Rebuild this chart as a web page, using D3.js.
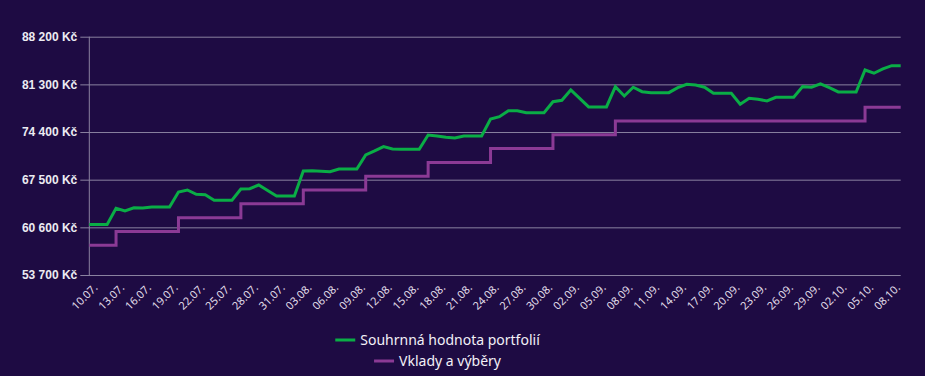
<!DOCTYPE html>
<html>
<head>
<meta charset="utf-8">
<script src="https://cdn.jsdelivr.net/npm/d3@7"></script>
<style>
  body { margin: 0; background: #1e0b43; }
  svg { display: block; }
</style>
</head>
<body>
<div id="chart"></div>
<script>
// Daily categories, 10.07. - 09.10.
var dates = [
  "10.07.","11.07.","12.07.","13.07.","14.07.","15.07.","16.07.","17.07.","18.07.","19.07.","20.07.",
  "21.07.","22.07.","23.07.","24.07.","25.07.","26.07.","27.07.","28.07.","29.07.","30.07.","31.07.",
  "01.08.","02.08.","03.08.","04.08.","05.08.","06.08.","07.08.","08.08.","09.08.","10.08.","11.08.",
  "12.08.","13.08.","14.08.","15.08.","16.08.","17.08.","18.08.","19.08.","20.08.","21.08.","22.08.",
  "23.08.","24.08.","25.08.","26.08.","27.08.","28.08.","29.08.","30.08.","31.08.",
  "01.09.","02.09.","03.09.","04.09.","05.09.","06.09.","07.09.","08.09.","09.09.","10.09.","11.09.",
  "12.09.","13.09.","14.09.","15.09.","16.09.","17.09.","18.09.","19.09.","20.09.","21.09.","22.09.",
  "23.09.","24.09.","25.09.","26.09.","27.09.","28.09.","29.09.","30.09.",
  "01.10.","02.10.","03.10.","04.10.","05.10.","06.10.","07.10.","08.10.","09.10."
];

// Souhrnná hodnota portfolií
var portfolio = [
  61000, 61000, 61000, 63360, 62970, 63440, 63400, 63550, 63550, 63550,
  65720, 66010, 65390, 65330, 64520, 64520, 64520, 66150, 66200, 66730,
  65940, 65140, 65140, 65140, 68760, 68800, 68720, 68660, 69050, 69050,
  69050, 71080, 71660, 72280, 71950, 71900, 71900, 71900, 73970, 73830,
  73640, 73540, 73830, 73830, 73830, 76290, 76620, 77490, 77490, 77200,
  77200, 77200, 78790, 79000, 80490, 79260, 78030, 78030, 78030, 80970,
  79620, 80880, 80240, 80100, 80100, 80100, 80820, 81310, 81210, 80880,
  80010, 80010, 80010, 78420, 79290, 79140, 78900, 79430, 79430, 79430,
  80970, 80880, 81360, 80820, 80200, 80200, 80200, 83380, 82910, 83530,
  84010, 84010
];

// Vklady a výběry
var deposits = [
  58000, 58000, 58000, 60000, 60000, 60000, 60000, 60000, 60000, 60000,
  62000, 62000, 62000, 62000, 62000, 62000, 62000, 64000, 64000, 64000,
  64000, 64000, 64000, 64000, 66000, 66000, 66000, 66000, 66000, 66000,
  66000, 68000, 68000, 68000, 68000, 68000, 68000, 68000, 70000, 70000,
  70000, 70000, 70000, 70000, 70000, 72000, 72000, 72000, 72000, 72000,
  72000, 72000, 74000, 74000, 74000, 74000, 74000, 74000, 74000, 76000,
  76000, 76000, 76000, 76000, 76000, 76000, 76000, 76000, 76000, 76000,
  76000, 76000, 76000, 76000, 76000, 76000, 76000, 76000, 76000, 76000,
  76000, 76000, 76000, 76000, 76000, 76000, 76000, 78000, 78000, 78000,
  78000, 78000
];

var yTicks = [53700, 60600, 67500, 74400, 81300, 88200];
var seriesNames = ["Souhrnná hodnota portfolií", "Vklady a výběry"];
var seriesColors = ["#0aad46", "#8b3a95"];

var width = 925, height = 376;
var margin = { top: 36.7, right: 24.3, bottom: 101, left: 89.3 };
var plotW = width - margin.left - margin.right;

var svg = d3.select("#chart").append("svg")
  .attr("width", width)
  .attr("height", height);

var x = d3.scalePoint().domain(dates).range([margin.left, width - margin.right]);
var y = d3.scaleLinear().domain([53700, 88200]).range([height - margin.bottom, margin.top]);

var kc = d3.formatLocale({ decimal: ",", thousands: " ", grouping: [3], currency: ["", " Kč"] })
  .format("$,.0f");

// y axis with gridlines (ticks stick out 9px left of the axis)
var yAxis = svg.append("g")
  .attr("transform", "translate(" + (margin.left - 9) + ",0)")
  .call(d3.axisLeft(y).tickValues(yTicks).tickSize(-(plotW + 9)).tickPadding(3).tickFormat(kc));
yAxis.select(".domain").remove();
yAxis.selectAll("line").attr("stroke", "#8a82a0").attr("stroke-width", 1);
yAxis.selectAll("text")
  .attr("fill", "#ecebf2")
  .style("font-family", "'Liberation Sans', Arial, sans-serif")
  .style("font-size", "12px")
  .style("font-weight", "bold");

// vertical axis line
svg.append("line")
  .attr("x1", margin.left).attr("x2", margin.left)
  .attr("y1", margin.top).attr("y2", height - margin.bottom)
  .attr("stroke", "#8a82a0");

// x axis, every third label, rotated
var xAxis = svg.append("g")
  .attr("transform", "translate(0," + (height - margin.bottom) + ")")
  .call(d3.axisBottom(x).tickValues(dates.filter(function (d, i) { return i % 3 === 0; })).tickSize(0));
xAxis.select(".domain").remove();
xAxis.selectAll("text")
  .attr("fill", "#e2dfea")
  .attr("text-anchor", "end")
  .attr("dy", "0.7em")
  .attr("y", 0)
  .attr("transform", "translate(3,8) rotate(-45)")
  .style("font-family", "'Noto Sans', sans-serif")
  .style("font-size", "11px");

// lines
var greenLine = d3.line()
  .x(function (d, i) { return x(dates[i]); })
  .y(function (d) { return y(d); });

var purpleLine = d3.line()
  .x(function (d, i) { return x(dates[i]); })
  .y(function (d) { return y(d); })
  .curve(d3.curveStepAfter);

svg.append("path")
  .datum(deposits)
  .attr("d", purpleLine)
  .attr("fill", "none")
  .attr("stroke", seriesColors[1])
  .attr("stroke-width", 3);

svg.append("path")
  .datum(portfolio)
  .attr("d", greenLine)
  .attr("fill", "none")
  .attr("stroke", seriesColors[0])
  .attr("stroke-width", 3)
  .attr("stroke-linejoin", "miter");

// legend, one item per row, centred
var legendCx = 437.5;
var legendRows = [340, 361];
seriesNames.forEach(function (name, i) {
  var g = svg.append("g");
  var t = g.append("text")
    .attr("x", 25)
    .attr("y", 0)
    .attr("dy", "0.35em")
    .attr("fill", "#f2f0f7")
    .style("font-family", "'Noto Sans', sans-serif")
    .style("font-size", "14px")
    .text(name);
  g.append("line")
    .attr("x1", 0).attr("x2", 20)
    .attr("y1", 0).attr("y2", 0)
    .attr("stroke", seriesColors[i])
    .attr("stroke-width", 3);
  var w = 25 + t.node().getComputedTextLength();
  g.attr("transform", "translate(" + (legendCx - w / 2) + "," + legendRows[i] + ")");
});
</script>
</body>
</html>
